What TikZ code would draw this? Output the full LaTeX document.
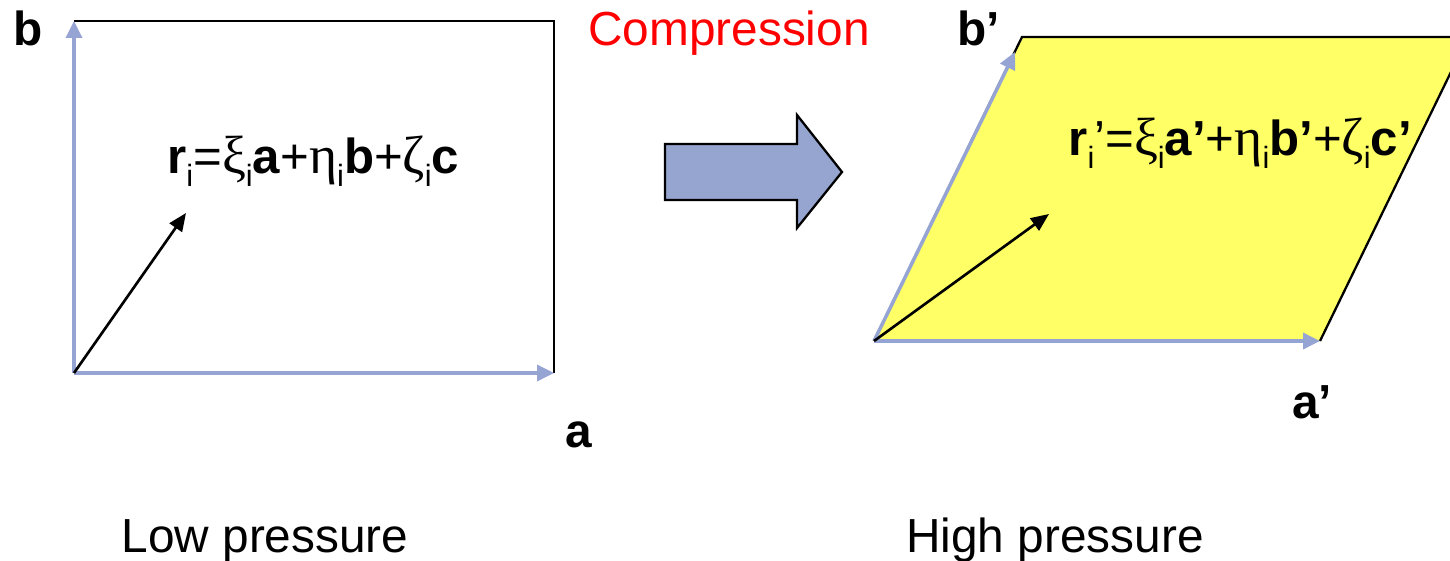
\documentclass[tikz,border=0pt]{standalone}
\usepackage{fontspec}
\setmainfont{Liberation Sans}
\newfontfamily\grk{Liberation Serif}
\usetikzlibrary{arrows.meta}
\definecolor{vecblue}{RGB}{150,164,212}
\definecolor{arrfill}{RGB}{150,164,208}
\definecolor{cellyellow}{RGB}{255,255,102}
\newcommand{\sbi}{\raisebox{-0.28em}{\fontsize{17.5}{18}\selectfont i}}
\newcommand{\gk}[1]{{\grk\fontsize{30.5}{32}\selectfont #1}}
\begin{document}
\begin{tikzpicture}[x=0.02cm,y=-0.02cm,
  txt/.style={inner sep=0pt,font=\fontsize{27.2}{30}\selectfont},
  ftxt/.style={inner sep=0pt,font=\fontsize{28}{30}\selectfont,anchor=base west},
  lbl/.style={txt,font=\fontsize{27.2}{30}\selectfont\bfseries,anchor=base west},
  basevec/.style={draw=vecblue,line width=2pt,-{Triangle[length=0.34cm,width=0.32cm]}},
  posvec/.style={draw=black,line width=1.5pt,-{Triangle[length=0.36cm,width=0.3cm]}},
  edge/.style={draw=black,line width=1.3pt}]
\useasboundingbox (0,0) rectangle (1450,561);
\clip (0,0) rectangle (1450,561);
% left cell
\coordinate (O1) at (74,373);
\coordinate (TL1) at (74,21);
\coordinate (TR1) at (554,21);
\coordinate (BR1) at (554,373);
\coordinate (R1) at (186,213);
\draw[edge] (TL1) -- (TR1) -- (BR1);
\draw[basevec] (O1) -- (TL1);
\draw[basevec] (O1) -- (BR1);
\draw[posvec] (O1) -- (R1);
\node[lbl] (lb) at (13,45) {b};
\node[lbl] (la) at (565,447) {a};
\node[ftxt] (f1) at (167,173) {\textbf{r}\sbi=\gk{ξ}\sbi\textbf{a}+\gk{η}\sbi\textbf{b}+\gk{ζ}\sbi\textbf{c}};
\node[txt,anchor=base] (lp) at (265,552) {Low pressure};
% compression arrow
\node[txt,anchor=base,text=red] (comp) at (729,45) {Compression};
\draw[black,line width=1.3pt,fill=arrfill] (665,144) coordinate (A1) -- (797,144) -- (797,115) -- (842,172) -- (797,228) -- (797,200) -- (665,200) -- cycle;
% right cell
\coordinate (O2) at (874,341);
\coordinate (TL2) at (1022,37);
\coordinate (TR2) at (1468,37);
\coordinate (BR2) at (1320,341);
\coordinate (B2) at (1015,52);
\coordinate (R2) at (1049,214);
\fill[cellyellow] (O2) -- (TL2) -- (TR2) -- (BR2) -- cycle;
\draw[edge] (O2) -- (TL2) -- (TR2) -- (BR2);
\draw[basevec] (O2) -- (B2);
\draw[basevec] (O2) -- (BR2);
\draw[posvec] (O2) -- (R2);
\node[lbl] (lbp) at (957,45) {b’};
\node[lbl] (lap) at (1292,418) {a’};
\node[ftxt] (f2) at (1068,155) {\textbf{r}\sbi’=\gk{ξ}\sbi\textbf{a’}+\gk{η}\sbi\textbf{b’}+\gk{ζ}\sbi\textbf{c’}};
\node[txt,anchor=base] (hp) at (1055,552) {High pressure};
\end{tikzpicture}
\end{document}
